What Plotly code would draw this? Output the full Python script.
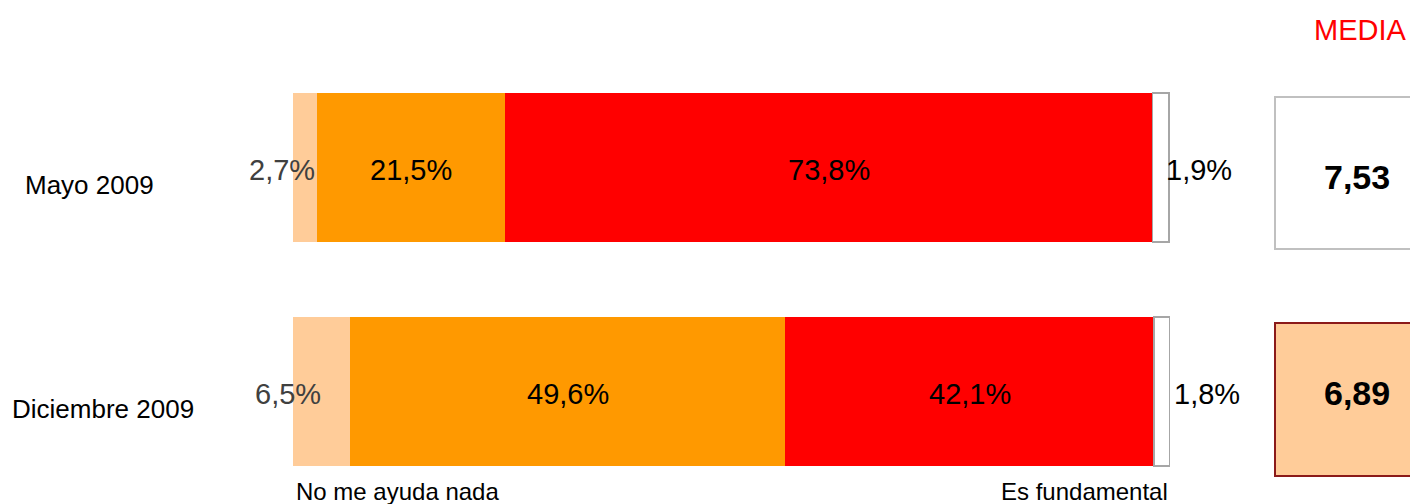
import plotly.graph_objects as go

categories = ["Mayo 2009", "Diciembre 2009"]
nada = [2.7, 6.5]
algo = [21.5, 49.6]
fundamental = [73.8, 42.1]
nsnc = [1.9, 1.8]
media = ["7,53", "6,89"]
scale_labels = ["No me ayuda nada", "Es fundamental"]

FONT = "Liberation Sans, Arial, sans-serif"
W, H = 1410, 504
ML, MR, MT, MB = 293, 240, 40, 20
PW = W - ML - MR
PH = H - MT - MB

ypos = [0, 1]
yrange = [1.413, -0.569]

def fmt(v):
    return f"{v:.1f}".replace(".", ",") + "%"

def px_to_paper_x(p):
    return (p - ML) / PW

def px_to_paper_y(p):
    return (H - MB - p) / PH

fig = go.Figure()
series = [
    (nada, "#FFCC99", "rgba(0,0,0,0)", 0),
    (algo, "#FF9900", "rgba(0,0,0,0)", 0),
    (fundamental, "#FF0000", "rgba(0,0,0,0)", 0),
    (nsnc, "#FFFFFF", "#A6A6A6", 1.5),
]
for vals, col, lc, lw in series:
    fig.add_trace(go.Bar(
        x=vals, y=ypos, orientation="h", width=0.665,
        marker=dict(color=col, line=dict(color=lc, width=lw)),
        hoverinfo="skip", showlegend=False,
    ))

LBL = 29
ann = []
for i, y in enumerate(ypos):
    c1 = nada[i]
    c2 = c1 + algo[i]
    c3 = c2 + fundamental[i]
    c4 = c3 + nsnc[i]
    ys = -3
    ann.append(dict(x=c1, y=y, xref="x", yref="y", text=fmt(nada[i]),
                    xanchor="right", yanchor="middle", showarrow=False,
                    xshift=[0, -27][i], yshift=ys,
                    font=dict(family=FONT, size=LBL, color="#404040")))
    ann.append(dict(x=(c1 + c2) / 2, y=y, xref="x", yref="y", text=fmt(algo[i]),
                    xanchor="center", yanchor="middle", showarrow=False, yshift=ys,
                    font=dict(family=FONT, size=LBL, color="#000000")))
    ann.append(dict(x=(c2 + c3) / 2, y=y, xref="x", yref="y", text=fmt(fundamental[i]),
                    xanchor="center", yanchor="middle", showarrow=False, yshift=ys,
                    font=dict(family=FONT, size=LBL, color="#000000")))
    ann.append(dict(x=c4, y=y, xref="x", yref="y", text=fmt(nsnc[i]),
                    xanchor="left", yanchor="middle", showarrow=False,
                    xshift=[-5, 2][i], yshift=ys,
                    font=dict(family=FONT, size=LBL, color="#000000")))
    ann.append(dict(x=px_to_paper_x([23, 10][i]), y=y, xref="paper", yref="y",
                    text=categories[i], xanchor="left", yanchor="middle",
                    yshift=-18, showarrow=False,
                    font=dict(family=FONT, size=26, color="#000000")))
    ann.append(dict(x=px_to_paper_x(1357), y=y, xref="paper", yref="y",
                    text="<b>" + media[i] + "</b>", xanchor="center", yanchor="middle",
                    yshift=[-10, -2][i], showarrow=False,
                    font=dict(family=FONT, size=34, color="#000000")))

ann.append(dict(x=px_to_paper_x(1360), y=px_to_paper_y(30), xref="paper", yref="paper",
                text="MEDIA", xanchor="center", yanchor="middle", showarrow=False,
                font=dict(family=FONT, size=29, color="#FF0000")))
ann.append(dict(x=px_to_paper_x(294), y=px_to_paper_y(491), xref="paper", yref="paper",
                text=scale_labels[0], xanchor="left", yanchor="middle", showarrow=False,
                font=dict(family=FONT, size=24, color="#000000")))
ann.append(dict(x=px_to_paper_x(1170), y=px_to_paper_y(491), xref="paper", yref="paper",
                text=scale_labels[1], xanchor="right", yanchor="middle", showarrow=False,
                font=dict(family=FONT, size=24, color="#000000")))

shapes = [
    dict(type="rect", xref="paper", yref="paper",
         x0=px_to_paper_x(1275), x1=px_to_paper_x(1425),
         y0=px_to_paper_y(249), y1=px_to_paper_y(97),
         fillcolor="#FFFFFF", line=dict(color="#C0C0C0", width=2)),
    dict(type="rect", xref="paper", yref="paper",
         x0=px_to_paper_x(1275), x1=px_to_paper_x(1425),
         y0=px_to_paper_y(476), y1=px_to_paper_y(323),
         fillcolor="#FFCC99", line=dict(color="#8B1A1A", width=2)),
]

fig.update_layout(
    width=W, height=H, barmode="stack",
    margin=dict(l=ML, r=MR, t=MT, b=MB, pad=0),
    paper_bgcolor="#FFFFFF", plot_bgcolor="#FFFFFF",
    xaxis=dict(range=[0, 100], visible=False, fixedrange=True),
    yaxis=dict(range=yrange, visible=False, fixedrange=True),
    annotations=ann, shapes=shapes, bargap=0,
    font=dict(family=FONT),
)

fig.write_html("out.html", config={"displayModeBar": False, "staticPlot": True},
               post_script="document.body.style.margin='0';document.body.style.overflow='hidden';")
